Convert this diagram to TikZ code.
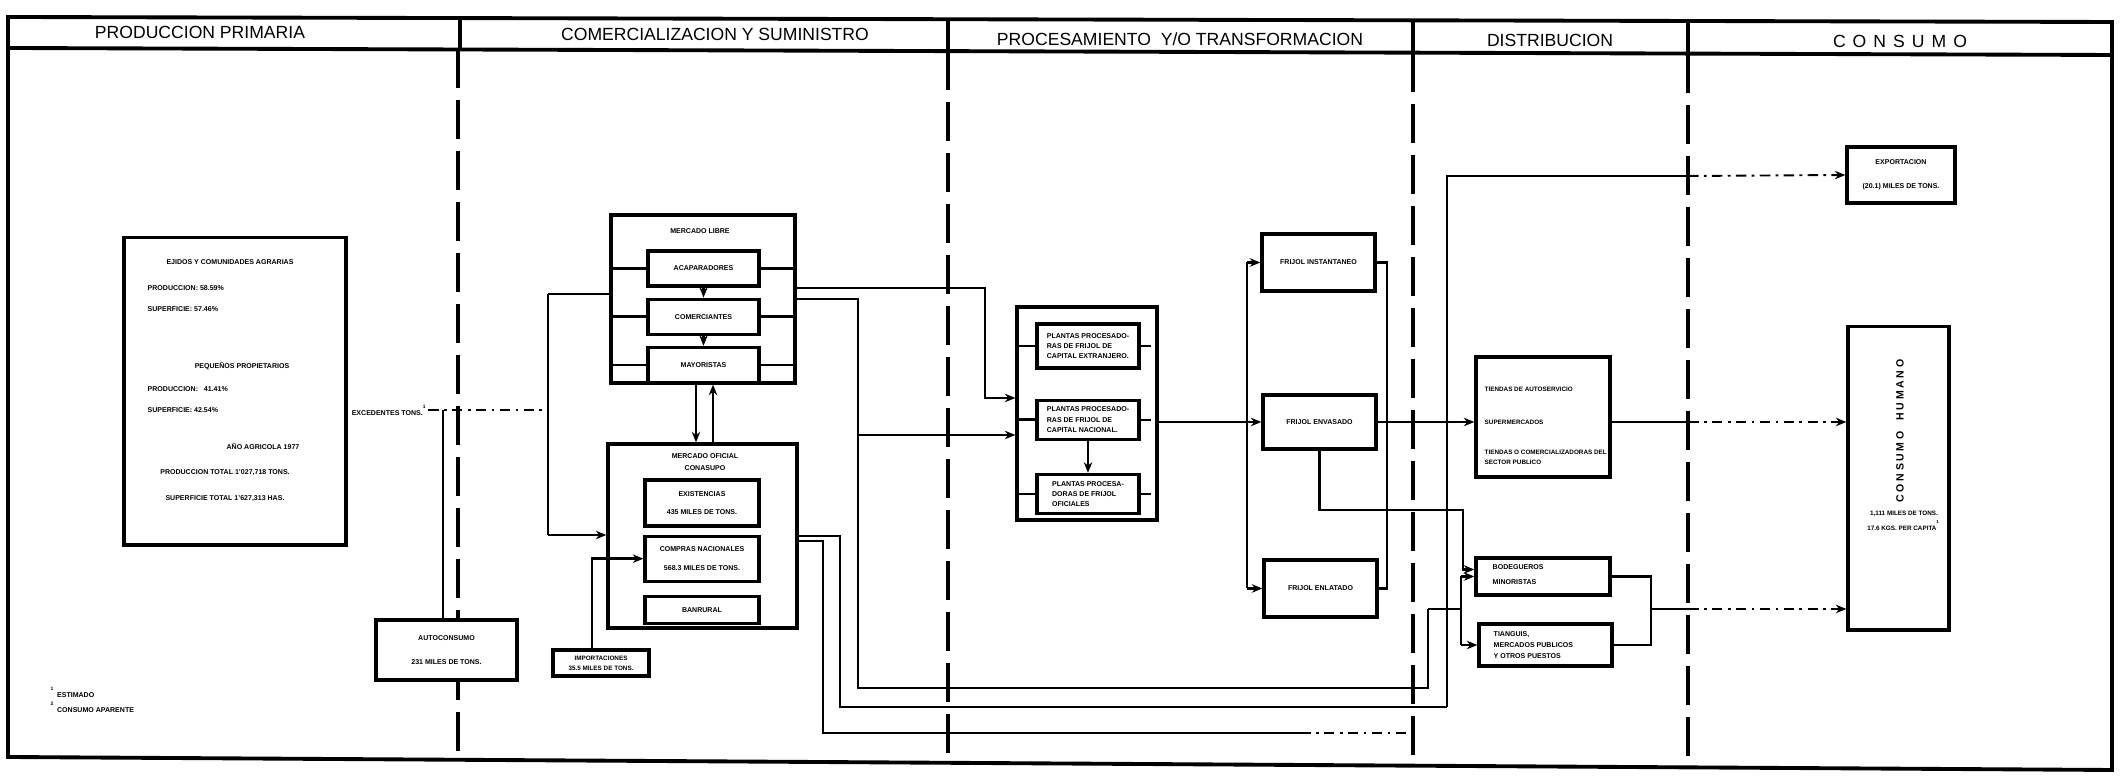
\documentclass[tikz,border=0pt]{standalone}
\usepackage{fontspec}
\setmainfont{Liberation Sans}
\usetikzlibrary{arrows.meta, positioning}

\begin{document}
\begin{tikzpicture}[
    x={(0.01cm,0)}, y={(0,-0.01cm)},
    caja/.style={rectangle, draw, fill=white, line width=0.9pt, inner sep=0pt, align=center, font=\fontsize{2}{3.2}\selectfont\bfseries},
    rotulo/.style={inner sep=0pt, font=\fontsize{2}{3.2}\selectfont\bfseries},
    titulo/.style={inner sep=0pt, font=\fontsize{5}{6}\selectfont},
    linea/.style={line width=0.7pt},
    flecha/.style={line width=0.7pt, -{Stealth[length=3pt, width=2.4pt]}},
    punteo/.style={line width=0.55pt, dash pattern=on 3pt off 1.5pt on 0.8pt off 1.5pt},
    division/.style={line width=0.9pt, dash pattern=on 11pt off 3.5pt}
]
\useasboundingbox (0,0) rectangle (2120,777);

% Marco y encabezado
\draw[line width=1.1pt] (8,17) -- (2112,22) -- (2112,770) -- (8,757) -- cycle;
\draw[line width=1.1pt] (8,48) -- (2112,55);
\draw[line width=1.1pt] (460,18) -- (460,49);
\draw[line width=1.1pt] (948,19) -- (948,51);
\draw[line width=1.1pt] (1413,20) -- (1413,53);
\draw[line width=1.1pt] (1688,21) -- (1688,54);
\draw[division] (458,49) -- (458,758);
\draw[division] (948,51) -- (948,763);
\draw[division] (1413,53) -- (1413,766);
\draw[division] (1688,54) -- (1688,768);
\coordinate (lim-dist) at (1688,0);

\node[titulo] (h-prod) at (200,32) {PRODUCCION PRIMARIA};
\node[titulo] (h-comer) at (715,34) {COMERCIALIZACION Y SUMINISTRO};
\node[titulo] (h-proc) at (1180,39) {PROCESAMIENTO\ \ Y/O TRANSFORMACION};
\node[titulo] (h-distr) at (1550,40) {DISTRIBUCION};
\node[titulo] (h-cons) at (1900,41) {\addfontfeatures{LetterSpace=40}CONSUMO};

% Produccion primaria
\node[caja, minimum width=2.22cm, minimum height=3.07cm] (prod) at (235,391.5) {};
\node[rotulo] (prod-ejidos) at (230,262) {EJIDOS Y COMUNIDADES AGRARIAS};
\node[rotulo, anchor=west] (prod-p1) at (147,288) {PRODUCCION: 58.59\%};
\node[rotulo, anchor=west] (prod-s1) at (147,309) {SUPERFICIE: 57.46\%};
\node[rotulo] (prod-peq) at (242,366) {PEQUEÑOS PROPIETARIOS};
\node[rotulo, anchor=west] (prod-p2) at (147,389) {PRODUCCION:\ \ \ 41.41\%};
\node[rotulo, anchor=west] (prod-s2) at (147,410) {SUPERFICIE: 42.54\%};
\node[rotulo] (prod-anio) at (263,446) {AÑO AGRICOLA 1977};
\node[rotulo] (prod-ptot) at (225,473) {PRODUCCION TOTAL 1'027,718 TONS.};
\node[rotulo] (prod-stot) at (225,499) {SUPERFICIE TOTAL 1'627,313 HAS.};

\node[rotulo, anchor=east] (exced) at (428,410) {EXCEDENTES TONS.\textsuperscript{1}};
\node[caja, minimum width=1.41cm, minimum height=0.60cm] (autocons) at (446.5,650) {AUTOCONSUMO\\[3.5pt]231 MILES DE TONS.};

% Comercializacion y suministro
\node[caja, minimum width=0.96cm, minimum height=0.26cm, font=\fontsize{1.8}{2.8}\selectfont\bfseries] (import) at (601,663) {IMPORTACIONES\\35.5 MILES DE TONS.};

\node[caja, minimum width=1.84cm, minimum height=1.68cm] (mlibre) at (703,299) {};
\node[rotulo] (mlibre-tit) at (700,231) {MERCADO LIBRE};
\node[caja, minimum width=1.11cm, minimum height=0.35cm] (acap) at (703.5,268.5) {ACAPARADORES};
\node[caja, minimum width=1.11cm, minimum height=0.35cm, below=0.10cm of acap] (comerc) {COMERCIANTES};
\node[caja, minimum width=1.11cm, minimum height=0.35cm, below=0.10cm of comerc] (mayor) {MAYORISTAS};

\node[caja, minimum width=1.89cm, minimum height=1.84cm] (conasupo) at (702.5,536) {};
\node[rotulo, align=center] (conasupo-tit) at (705,462) {MERCADO OFICIAL\\CONASUPO};
\node[caja, minimum width=1.14cm, minimum height=0.46cm] (exist) at (702,503) {EXISTENCIAS\\[2pt]435 MILES DE TONS.};
\node[caja, minimum width=1.14cm, minimum height=0.45cm, below=0.07cm of exist] (compras) {COMPRAS NACIONALES\\[2pt]568.3 MILES DE TONS.};
\node[caja, minimum width=1.14cm, minimum height=0.27cm, below=0.12cm of compras] (banrural) {BANRURAL};

% Procesamiento
\node[caja, minimum width=1.40cm, minimum height=2.13cm] (proc) at (1087,413.5) {};
\node[caja, align=left, font=\fontsize{2}{2.9}\selectfont\bfseries, minimum width=1.02cm, minimum height=0.44cm] (pext) at (1088,346) {PLANTAS PROCESADO-\\RAS DE FRIJOL DE\\CAPITAL EXTRANJERO.};
\node[caja, align=left, font=\fontsize{2}{2.9}\selectfont\bfseries, minimum width=1.02cm, minimum height=0.39cm, below=0.29cm of pext] (pnac) {PLANTAS PROCESADO-\\RAS DE FRIJOL DE\\CAPITAL NACIONAL.};
\node[caja, align=left, font=\fontsize{2}{2.9}\selectfont\bfseries, minimum width=1.02cm, minimum height=0.39cm, below=0.32cm of pnac] (pofi) {PLANTAS PROCESA-\\DORAS DE FRIJOL\\OFICIALES};

\node[caja, minimum width=1.13cm, minimum height=0.57cm] (finst) at (1318.5,262.5) {FRIJOL INSTANTANEO};
\node[caja, minimum width=1.13cm, minimum height=0.54cm] (fenv) at (1319.5,422) {FRIJOL ENVASADO};
\node[caja, minimum width=1.13cm, minimum height=0.57cm] (fenl) at (1320.5,588.5) {FRIJOL ENLATADO};

% Distribucion
\node[caja, minimum width=1.34cm, minimum height=1.20cm] (super) at (1543,417) {};
\node[rotulo, anchor=west, align=left, font=\fontsize{1.8}{2.9}\selectfont\bfseries] (super-txt) at (1484,426) {TIENDAS DE AUTOSERVICIO\\[6.4pt]SUPERMERCADOS\\[5.8pt]TIENDAS O COMERCIALIZADORAS DEL\\SECTOR PUBLICO};
\node[caja, minimum width=1.34cm, minimum height=0.37cm] (bodeg) at (1543,576.5) {};
\node[rotulo, anchor=north west, align=left] (bodeg-txt) at (1492,564) {BODEGUEROS\\[1pt]MINORISTAS};
\node[caja, minimum width=1.33cm, minimum height=0.42cm] (tiendas) at (1545.5,645) {};
\node[rotulo, anchor=west, align=left] (tiendas-txt) at (1493,645) {TIANGUIS,\\MERCADOS PUBLICOS\\Y OTROS PUESTOS};

% Consumo
\node[caja, minimum width=1.08cm, minimum height=0.56cm] (export) at (1901,175) {EXPORTACION\\[3.5pt](20.1) MILES DE TONS.};
\node[caja, minimum width=1.01cm, minimum height=3.03cm] (chumano) at (1898.5,478.5) {};
\node[rotulo, rotate=90, font=\fontsize{3}{4}\selectfont\bfseries] (chumano-txt) at (1900,431) {\addfontfeatures{LetterSpace=25}CONSUMO\ \ HUMANO};
\node[rotulo, align=center, font=\fontsize{1.8}{2.8}\selectfont\bfseries] (chumano-cant) at (1904,521) {1,111 MILES DE TONS.\\17.6 KGS. PER CAPITA\textsuperscript{1}};

% Notas
\node[rotulo, anchor=west] (nota1) at (50,692) {\textsuperscript{1} ESTIMADO};
\node[rotulo, anchor=west] (nota2) at (50,707) {\textsuperscript{2} CONSUMO APARENTE};

% Conexiones: produccion
\coordinate (exc) at (443,410);
\coordinate (reparto) at (548,410);
\coordinate (rep-a) at (548,294);
\coordinate (rep-b) at (548,535);
\draw[linea] (exc) -- (exc |- autocons.north);
\draw[punteo] (exced.east) -- (reparto);
\draw[linea] (rep-a) -- (rep-b);
\draw[linea] (rep-a) -- (rep-a -| mlibre.west);
\draw[flecha] (rep-b) -- (rep-b -| conasupo.west);
\draw[flecha] ([xshift=-0.09cm]import.north) |- (compras.west);

% Mercado libre
\draw[linea] (acap.west) -- (acap.west -| mlibre.west);
\draw[linea] (comerc.west) -- (comerc.west -| mlibre.west);
\draw[linea] (mayor.west) -- (mayor.west -| mlibre.west);
\draw[linea] (acap.east) -- (acap.east -| mlibre.east);
\draw[linea] (comerc.east) -- (comerc.east -| mlibre.east);
\draw[linea] (mayor.east) -- (mayor.east -| mlibre.east);
\draw[flecha] (acap.south) -- (comerc.north);
\draw[flecha] (comerc.south) -- (mayor.north);
\draw[flecha] ([xshift=-0.07cm]mlibre.south) -- ([xshift=-0.07cm]mlibre.south |- conasupo.north);
\draw[flecha] ([xshift=0.10cm]mlibre.south |- conasupo.north) -- ([xshift=0.10cm]mlibre.south);

% Hacia el procesamiento
\coordinate (ml-proc) at (985,398);
\coordinate (ml-baja) at (858,688);
\coordinate (cn-proc) at (858,435);
\draw[flecha] ([yshift=0.11cm]mlibre.east) -| (ml-proc) -- (ml-proc -| proc.west);
\draw[flecha] (cn-proc) -- (cn-proc -| proc.west);

% Procesamiento
\draw[linea] (pext.west) -- (pext.west -| proc.west);
\draw[linea] (pnac.west) -- (pnac.west -| proc.west);
\draw[linea] (pofi.west) -- (pofi.west -| proc.west);
\draw[punteo] (pext.east) -- (pext.east -| proc.east);
\draw[punteo] (pnac.east) -- (pnac.east -| proc.east);
\draw[punteo] (pofi.east) -- (pofi.east -| proc.east);
\draw[flecha] (pnac.south) -- (pofi.north);

\coordinate (fr-izq) at (1247,422);
\coordinate (fr-der) at (1387,422);
\draw[linea] (proc.east |- fr-izq) -- (fr-izq);
\draw[linea] (finst.west -| fr-izq) -- (fenl.west -| fr-izq);
\draw[flecha] (finst.west -| fr-izq) -- (finst.west);
\draw[flecha] (fr-izq) -- (fenv.west);
\draw[flecha] (fenl.west -| fr-izq) -- (fenl.west);
\draw[linea] (finst.east) -| (fenl.east -| fr-der) -- (fenl.east);
\draw[linea] (fenv.east) -- (fr-der);
\draw[flecha] (fr-der) -- (super.west |- fr-der);

% Distribucion
\coordinate (env-b) at (1463,510);
\coordinate (dist-top) at (1447,176);
\coordinate (dist-bot) at (1447,707);
\coordinate (tb-in) at (1428,609);
\coordinate (tb-izq) at (1461,609);
\coordinate (tb-der) at (1651,609);
\draw[flecha] (fenv.south) |- (env-b) |- ([yshift=0.07cm]bodeg.west);
\draw[linea] (dist-bot) -- (dist-top) -- (dist-top -| lim-dist);
\draw[flecha, punteo] (dist-top -| lim-dist) -- (export.west);
\draw[linea] (tb-in) -- (tb-izq);
\draw[linea] (bodeg.west -| tb-izq) -- (tiendas.west -| tb-izq);
\draw[flecha] (bodeg.west -| tb-izq) -- (bodeg.west);
\draw[flecha] (tiendas.west -| tb-izq) -- (tiendas.west);
\draw[linea] (bodeg.east) -| (tb-der) |- (tiendas.east);

% Consumo
\draw[linea] (super.east |- fr-der) -- (fr-der -| lim-dist);
\draw[flecha, punteo] (fr-der -| lim-dist) -- (fr-der -| chumano.west);
\draw[linea] (tb-der) -- (tb-der -| lim-dist);
\draw[flecha, punteo] (tb-der -| lim-dist) -- (tb-der -| chumano.west);

% Lineas inferiores
\draw[linea] (mlibre.east) -| (ml-baja) -| (tb-in);
\draw[linea] (conasupo.east) -| (840,707) -- (dist-bot);
\draw[linea] ([yshift=-0.05cm]conasupo.east) -| (823,733) -- (1300,733);
\draw[punteo] (1300,733) -- (1413,733);

\end{tikzpicture}
\end{document}
